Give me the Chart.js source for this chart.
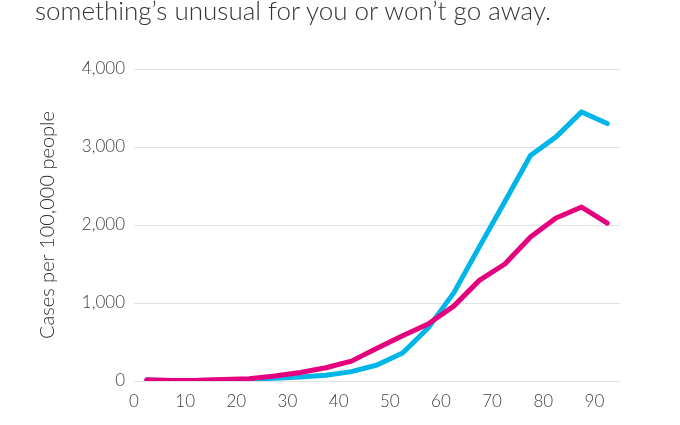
<!DOCTYPE html>
<html>
<head>
<meta charset="utf-8">
<script src="https://cdn.jsdelivr.net/npm/chart.js@4/dist/chart.umd.min.js"></script>
<style>
  html, body { margin: 0; padding: 0; background: #fff; }
  #wrap { position: relative; width: 680px; height: 425px; overflow: hidden; }
  #chart { position: absolute; left: 0; top: 0; }
  #lead {
    position: absolute; left: 35px; top: -6px;
    font-family: Lato, "Open Sans", sans-serif; font-size: 26px; font-weight: 300;
    color: #333; white-space: nowrap;
  }
</style>
</head>
<body>
<div id="wrap">
  <canvas id="chart" width="680" height="425"></canvas>
  <div id="lead">something’s unusual for you or won’t go away.</div>
</div>
<script>
  // age group midpoints
  const ages = [2.5, 7.5, 12.5, 17.5, 22.5, 27.5, 32.5, 37.5, 42.5, 47.5,
                52.5, 57.5, 62.5, 67.5, 72.5, 77.5, 82.5, 87.5, 92.5];
  const blueRates = [10, 5, 5, 10, 20, 35, 50, 75, 120, 205,
                     360, 680, 1130, 1720, 2300, 2890, 3130, 3450, 3300];
  const pinkRates = [15, 8, 10, 20, 30, 65, 110, 170, 255, 420,
                     580, 730, 960, 1290, 1500, 1846, 2090, 2230, 2025];
  const xTicks = [0, 10, 20, 30, 40, 50, 60, 70, 80, 90];
  const yTicks = [0, 1000, 2000, 3000, 4000];

  const blue = '#00b5e8';
  const pink = '#e5007e';
  const fontFamily = 'Lato, "Open Sans", sans-serif';

  function toPoints(values) {
    return values.map((v, i) => ({ x: ages[i], y: v }));
  }

  new Chart(document.getElementById('chart'), {
    type: 'line',
    data: {
      datasets: [{
        label: 'pink',
        data: toPoints(pinkRates),
        borderColor: pink,
        borderWidth: 5,
        borderCapStyle: 'round',
        borderJoinStyle: 'round',
        pointRadius: 0,
        tension: 0,
        fill: false
      }, {
        label: 'blue',
        data: toPoints(blueRates),
        borderColor: blue,
        borderWidth: 5,
        borderCapStyle: 'round',
        borderJoinStyle: 'round',
        pointRadius: 0,
        tension: 0,
        fill: false
      }]
    },
    options: {
      responsive: false,
      animation: false,
      layout: { padding: { top: 69, right: 60, left: 0, bottom: 0 } },
      plugins: {
        legend: { display: false },
        tooltip: { enabled: false }
      },
      scales: {
        x: {
          type: 'linear',
          min: 0,
          max: 95,
          afterBuildTicks: (scale) => { scale.ticks = xTicks.map(v => ({ value: v })); },
          afterFit: (scale) => { scale.height = 44; },
          grid: { display: false, drawTicks: false },
          border: { display: false },
          ticks: {
            padding: 10,
            color: '#3e3e3e',
            font: { family: fontFamily, size: 17, weight: 300 }
          }
        },
        y: {
          min: 0,
          max: 4000,
          afterBuildTicks: (scale) => { scale.ticks = yTicks.map(v => ({ value: v })); },
          afterFit: (scale) => { scale.width = 134; },
          grid: { color: '#e2e2e2', lineWidth: 1, drawTicks: false },
          border: { display: false },
          ticks: {
            padding: 9,
            color: '#3e3e3e',
            font: { family: fontFamily, size: 17, weight: 300 },
            callback: (v) => v.toLocaleString('en-US')
          },
          title: {
            display: true,
            text: 'Cases per 100,000 people',
            color: '#2e2e2e',
            padding: { top: 36 },
            font: { family: fontFamily, size: 20, weight: 300 }
          }
        }
      }
    }
  });
</script>
</body>
</html>
